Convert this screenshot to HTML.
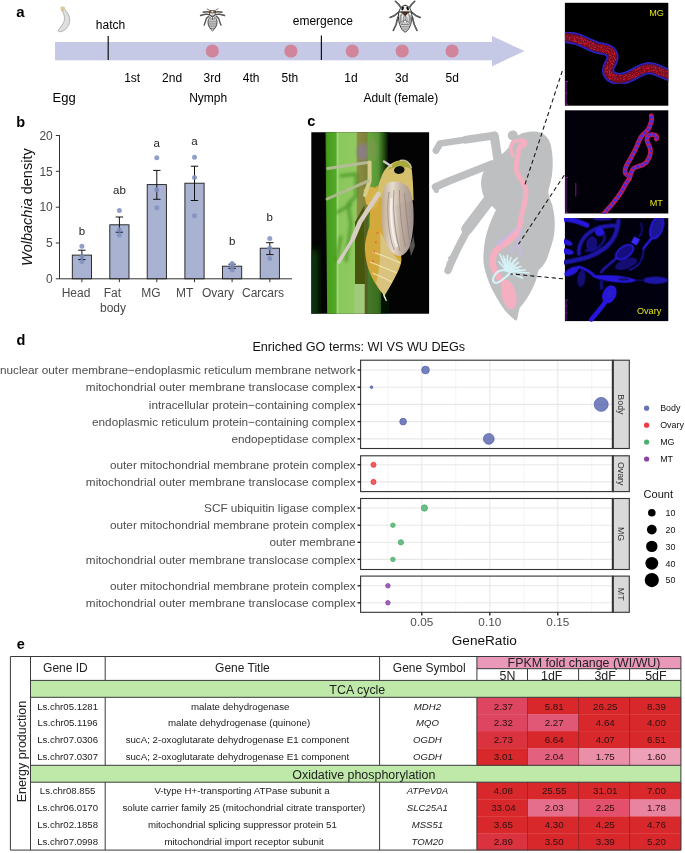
<!DOCTYPE html>
<html><head><meta charset="utf-8"><title>figure</title>
<style>
html,body{margin:0;padding:0;background:#fff;}
svg{display:block;font-family:"Liberation Sans", sans-serif;will-change:transform;}
</style></head>
<body>
<svg width="685" height="853" viewBox="0 0 685 853">
<rect width="685" height="853" fill="#fff"/>
<text x="16.3" y="16.8" font-size="15" fill="#000" text-anchor="start" font-weight="bold" font-style="normal" >a</text>
<rect x="55" y="42" width="438" height="18.3" fill="#c6c9e6"/>
<polygon points="492,36 524.5,51 492,66.4" fill="#c6c9e6"/>
<line x1="108.2" y1="36" x2="108.2" y2="60" stroke="#111" stroke-width="1.2"/>
<line x1="321.4" y1="35.5" x2="321.4" y2="60" stroke="#111" stroke-width="1.2"/>
<circle cx="212.3" cy="51" r="6.6" fill="#d0859b"/>
<circle cx="290.9" cy="51" r="6.6" fill="#d0859b"/>
<circle cx="352.3" cy="51" r="6.6" fill="#d0859b"/>
<circle cx="402.2" cy="51" r="6.6" fill="#d0859b"/>
<circle cx="452.1" cy="51" r="6.6" fill="#d0859b"/>
<path d="M62 11 C63.6 13 64.5 16 64.5 18.5 C64.5 22 62 25.5 58.1 30.4 C58 32.2 61 32.2 64.5 30.2 C68 27.5 70 23 69.7 19.7 C69.5 15.5 67.5 12 64.9 9.4 Z" fill="#dedede" stroke="#9b9b9b" stroke-width="0.7"/>
<path d="M60.3 7.6 C61.5 6.2 63.5 6 64.8 7.3 L65.4 9.6 L62.3 11.4 L60.8 10.2Z" fill="#d9c99a"/>
<g transform="translate(195,0) scale(0.058394)" stroke="#2e2e2e" fill="none" stroke-linecap="round" stroke-linejoin="round">
<g stroke-width="23" stroke="#2c2c2c"><path d="M268 215 L215 198 L140 210"/><path d="M332 215 L385 198 L462 210"/><path d="M258 250 L185 243 L95 265"/><path d="M342 250 L415 243 L507 265"/><path d="M236 278 L196 315 L158 430"/><path d="M364 278 L404 315 L444 430"/></g><g stroke-width="5" stroke="#dcdcdc"><path d="M268 215 L215 198 L140 210"/><path d="M332 215 L385 198 L462 210"/><path d="M258 250 L185 243 L95 265"/><path d="M342 250 L415 243 L507 265"/><path d="M236 278 L196 315 L158 430"/><path d="M364 278 L404 315 L444 430"/></g>
<g stroke-width="11"><path d="M268 188 L208 153"/><path d="M332 188 L396 150"/></g>
<path d="M300 266 C250 290 222 340 222 382 C222 440 264 502 300 530 C336 502 378 440 378 382 C378 340 350 290 300 266Z" fill="#f6f6f6" stroke-width="15"/>
<g stroke-width="13" stroke="#404040"><path d="M236 362 H364"/><path d="M232 395 H368"/><path d="M238 428 H362"/><path d="M252 460 H348"/><path d="M272 492 H328"/><path d="M262 325 H338"/><path d="M300 280 V330"/></g>
<path d="M256 212 H344 V262 L300 277 L256 262Z" fill="#e2e2e2" stroke-width="13"/>
<ellipse cx="298" cy="200" rx="50" ry="22" fill="#ececec" stroke-width="13"/>
<circle cx="265" cy="201" r="15" fill="#8a4a12" stroke="none"/><circle cx="327" cy="201" r="15" fill="#8a4a12" stroke="none"/>
</g>
<g transform="translate(385,0) scale(0.058394)" stroke="#2a2a2a" fill="none" stroke-linecap="round" stroke-linejoin="round">
<g stroke-width="27" stroke="#2c2c2c"><path d="M278 140 L236 78 L178 22"/><path d="M412 140 L454 78 L510 22"/><path d="M248 200 L165 265 L88 300"/><path d="M442 200 L525 265 L603 300"/><path d="M222 290 L190 420 L142 522"/><path d="M468 290 L500 420 L548 522"/></g><g stroke-width="6" stroke="#dedede"><path d="M278 140 L236 78 L178 22"/><path d="M412 140 L454 78 L510 22"/><path d="M248 200 L165 265 L88 300"/><path d="M442 200 L525 265 L603 300"/><path d="M222 290 L190 420 L142 522"/><path d="M468 290 L500 420 L548 522"/></g>
<path d="M345 92 C288 92 248 150 234 220 C220 300 234 400 278 482 C298 517 323 542 345 550 C367 542 392 517 412 482 C456 400 470 300 456 220 C442 150 402 92 345 92Z" fill="#ededed" stroke-width="16"/>
<g stroke-width="11" stroke="#4a4a4a"><path d="M292 230 C262 300 266 360 302 402"/><path d="M398 230 C428 300 424 360 388 402"/><path d="M345 272 V350"/><path d="M318 290 C305 340 310 370 330 395"/><path d="M372 290 C385 340 380 370 360 395"/><path d="M262 260 C250 320 256 370 276 410"/><path d="M428 260 C440 320 434 370 414 410"/><path d="M300 370 L345 340 L390 370"/><path d="M278 420 H412"/><path d="M286 450 H404"/><path d="M298 480 H392"/><path d="M316 510 H374"/></g>
<path d="M246 205 H444" stroke-width="16" stroke="#1a1a1a"/>
<polygon points="280,207 410,207 345,278" fill="#4b3222" stroke="#2a1a10" stroke-width="6"/>
<ellipse cx="302" cy="146" rx="19" ry="34" transform="rotate(24 302 146)" fill="#0c0c0c" stroke="none"/>
<ellipse cx="388" cy="146" rx="19" ry="34" transform="rotate(-24 388 146)" fill="#0c0c0c" stroke="none"/>
</g>
<text x="110.5" y="28.5" font-size="12" fill="#000" text-anchor="middle" font-weight="normal" font-style="normal" >hatch</text>
<text x="322.8" y="24.8" font-size="12" fill="#000" text-anchor="middle" font-weight="normal" font-style="normal" >emergence</text>
<text x="132.2" y="82.4" font-size="12" fill="#000" text-anchor="middle" font-weight="normal" font-style="normal" >1st</text>
<text x="172.1" y="82.4" font-size="12" fill="#000" text-anchor="middle" font-weight="normal" font-style="normal" >2nd</text>
<text x="212.2" y="82.4" font-size="12" fill="#000" text-anchor="middle" font-weight="normal" font-style="normal" >3rd</text>
<text x="251.1" y="82.4" font-size="12" fill="#000" text-anchor="middle" font-weight="normal" font-style="normal" >4th</text>
<text x="289.8" y="82.4" font-size="12" fill="#000" text-anchor="middle" font-weight="normal" font-style="normal" >5th</text>
<text x="351" y="82.4" font-size="12" fill="#000" text-anchor="middle" font-weight="normal" font-style="normal" >1d</text>
<text x="401.7" y="82.4" font-size="12" fill="#000" text-anchor="middle" font-weight="normal" font-style="normal" >3d</text>
<text x="452.2" y="82.4" font-size="12" fill="#000" text-anchor="middle" font-weight="normal" font-style="normal" >5d</text>
<text x="52.6" y="102" font-size="13" fill="#000" text-anchor="start" font-weight="normal" font-style="normal" >Egg</text>
<text x="208.2" y="102" font-size="12" fill="#000" text-anchor="middle" font-weight="normal" font-style="normal" >Nymph</text>
<text x="400.8" y="102" font-size="12" fill="#000" text-anchor="middle" font-weight="normal" font-style="normal" >Adult (female)</text>
<text x="16.3" y="126.8" font-size="14.5" fill="#000" text-anchor="start" font-weight="bold" font-style="normal" >b</text>
<rect x="72.3" y="255.1" width="19.2" height="23.7" fill="#a9b3d1" stroke="#1a1a1a" stroke-width="0.9"/>
<path d="M81.9 250.2V259.6M78.2 250.2H85.60000000000001M78.2 259.6H85.60000000000001" stroke="#111" stroke-width="1" fill="none"/>
<circle cx="81.9" cy="246.3" r="2.5" fill="#7f8fbe" fill-opacity="0.85"/>
<circle cx="81.9" cy="256.8" r="2.5" fill="#7f8fbe" fill-opacity="0.85"/>
<circle cx="81.9" cy="261.4" r="2.5" fill="#7f8fbe" fill-opacity="0.85"/>
<rect x="109.8" y="224.8" width="19.2" height="54.0" fill="#a9b3d1" stroke="#1a1a1a" stroke-width="0.9"/>
<path d="M119.4 217V232.2M115.7 217H123.10000000000001M115.7 232.2H123.10000000000001" stroke="#111" stroke-width="1" fill="none"/>
<circle cx="119.4" cy="210.5" r="2.5" fill="#7f8fbe" fill-opacity="0.85"/>
<circle cx="119.4" cy="229.9" r="2.5" fill="#7f8fbe" fill-opacity="0.85"/>
<circle cx="119.4" cy="235" r="2.5" fill="#7f8fbe" fill-opacity="0.85"/>
<rect x="147.2" y="184.6" width="19.2" height="94.2" fill="#a9b3d1" stroke="#1a1a1a" stroke-width="0.9"/>
<path d="M156.8 170.4V199.3M153.10000000000002 170.4H160.5M153.10000000000002 199.3H160.5" stroke="#111" stroke-width="1" fill="none"/>
<circle cx="156.8" cy="157.8" r="2.5" fill="#7f8fbe" fill-opacity="0.85"/>
<circle cx="156.8" cy="189.8" r="2.5" fill="#7f8fbe" fill-opacity="0.85"/>
<circle cx="156.8" cy="207.8" r="2.5" fill="#7f8fbe" fill-opacity="0.85"/>
<rect x="184.9" y="183.2" width="19.2" height="95.6" fill="#a9b3d1" stroke="#1a1a1a" stroke-width="0.9"/>
<path d="M194.5 166.2V200.5M190.8 166.2H198.2M190.8 200.5H198.2" stroke="#111" stroke-width="1" fill="none"/>
<circle cx="194.5" cy="157.3" r="2.5" fill="#7f8fbe" fill-opacity="0.85"/>
<circle cx="194.5" cy="177.4" r="2.5" fill="#7f8fbe" fill-opacity="0.85"/>
<circle cx="194.5" cy="215.7" r="2.5" fill="#7f8fbe" fill-opacity="0.85"/>
<rect x="222.5" y="266.2" width="19.2" height="12.6" fill="#a9b3d1" stroke="#1a1a1a" stroke-width="0.9"/>
<path d="M232.1 264.2V268.3M228.4 264.2H235.79999999999998M228.4 268.3H235.79999999999998" stroke="#111" stroke-width="1" fill="none"/>
<circle cx="232.1" cy="263.4" r="2.5" fill="#7f8fbe" fill-opacity="0.85"/>
<circle cx="232.1" cy="265.8" r="2.5" fill="#7f8fbe" fill-opacity="0.85"/>
<circle cx="232.1" cy="269.9" r="2.5" fill="#7f8fbe" fill-opacity="0.85"/>
<rect x="260.2" y="248.2" width="19.2" height="30.6" fill="#a9b3d1" stroke="#1a1a1a" stroke-width="0.9"/>
<path d="M269.8 242.7V254.6M266.1 242.7H273.5M266.1 254.6H273.5" stroke="#111" stroke-width="1" fill="none"/>
<circle cx="269.8" cy="238.5" r="2.5" fill="#7f8fbe" fill-opacity="0.85"/>
<circle cx="269.8" cy="247.9" r="2.5" fill="#7f8fbe" fill-opacity="0.85"/>
<circle cx="269.8" cy="258.6" r="2.5" fill="#7f8fbe" fill-opacity="0.85"/>
<path d="M59.5 135.2V278.8H292" stroke="#333" stroke-width="1" fill="none"/>
<line x1="55.8" x2="59.5" y1="278.8" y2="278.8" stroke="#333" stroke-width="1"/>
<text x="52.8" y="283.0" font-size="12" fill="#4a4a4a" text-anchor="end" font-weight="normal" font-style="normal" >0</text>
<line x1="55.8" x2="59.5" y1="243.0" y2="243.0" stroke="#333" stroke-width="1"/>
<text x="52.8" y="247.2" font-size="12" fill="#4a4a4a" text-anchor="end" font-weight="normal" font-style="normal" >5</text>
<line x1="55.8" x2="59.5" y1="207.2" y2="207.2" stroke="#333" stroke-width="1"/>
<text x="52.8" y="211.3" font-size="12" fill="#4a4a4a" text-anchor="end" font-weight="normal" font-style="normal" >10</text>
<line x1="55.8" x2="59.5" y1="171.3" y2="171.3" stroke="#333" stroke-width="1"/>
<text x="52.8" y="175.5" font-size="12" fill="#4a4a4a" text-anchor="end" font-weight="normal" font-style="normal" >15</text>
<line x1="55.8" x2="59.5" y1="135.5" y2="135.5" stroke="#333" stroke-width="1"/>
<text x="52.8" y="139.7" font-size="12" fill="#4a4a4a" text-anchor="end" font-weight="normal" font-style="normal" >20</text>
<line x1="81.9" x2="81.9" y1="278.8" y2="282.2" stroke="#333" stroke-width="1"/>
<line x1="119.4" x2="119.4" y1="278.8" y2="282.2" stroke="#333" stroke-width="1"/>
<line x1="156.8" x2="156.8" y1="278.8" y2="282.2" stroke="#333" stroke-width="1"/>
<line x1="194.5" x2="194.5" y1="278.8" y2="282.2" stroke="#333" stroke-width="1"/>
<line x1="232.1" x2="232.1" y1="278.8" y2="282.2" stroke="#333" stroke-width="1"/>
<line x1="269.8" x2="269.8" y1="278.8" y2="282.2" stroke="#333" stroke-width="1"/>
<text x="81.9" y="234.6" font-size="11.5" fill="#222" text-anchor="middle" font-weight="normal" font-style="normal" >b</text>
<text x="119.4" y="193.8" font-size="11.5" fill="#222" text-anchor="middle" font-weight="normal" font-style="normal" >ab</text>
<text x="156.8" y="146.5" font-size="11.5" fill="#222" text-anchor="middle" font-weight="normal" font-style="normal" >a</text>
<text x="194.5" y="144.9" font-size="11.5" fill="#222" text-anchor="middle" font-weight="normal" font-style="normal" >a</text>
<text x="232.1" y="244.5" font-size="11.5" fill="#222" text-anchor="middle" font-weight="normal" font-style="normal" >b</text>
<text x="269.8" y="221.4" font-size="11.5" fill="#222" text-anchor="middle" font-weight="normal" font-style="normal" >b</text>
<text x="76" y="297" font-size="12" fill="#4a4a4a" text-anchor="middle" font-weight="normal" font-style="normal" >Head</text>
<text x="112.3" y="297" font-size="12" fill="#4a4a4a" text-anchor="middle" font-weight="normal" font-style="normal" >Fat</text>
<text x="113" y="312.2" font-size="12" fill="#4a4a4a" text-anchor="middle" font-weight="normal" font-style="normal" >body</text>
<text x="151" y="297" font-size="12" fill="#4a4a4a" text-anchor="middle" font-weight="normal" font-style="normal" >MG</text>
<text x="184.6" y="297" font-size="12" fill="#4a4a4a" text-anchor="middle" font-weight="normal" font-style="normal" >MT</text>
<text x="218" y="297" font-size="12" fill="#4a4a4a" text-anchor="middle" font-weight="normal" font-style="normal" >Ovary</text>
<text x="263" y="297" font-size="12" fill="#4a4a4a" text-anchor="middle" font-weight="normal" font-style="normal" >Carcars</text>
<text transform="translate(32.4,266) rotate(-90)" font-size="14.5" fill="#111"><tspan font-style="italic">Wolbachia</tspan> density</text>
<text x="307.3" y="126" font-size="14.5" fill="#000" text-anchor="start" font-weight="bold" font-style="normal" >c</text>
<defs><clipPath id="cpPhoto"><rect x="68" y="72" width="490" height="755"/></clipPath><filter id="b3" x="-20%" y="-20%" width="140%" height="140%"><feGaussianBlur stdDeviation="3"/></filter><filter id="b6" x="-20%" y="-20%" width="140%" height="140%"><feGaussianBlur stdDeviation="6"/></filter><filter id="b12" x="-30%" y="-30%" width="160%" height="160%"><feGaussianBlur stdDeviation="12"/></filter><linearGradient id="stemG" x1="0" x2="1" y1="0" y2="0"><stop offset="0" stop-color="#2f7d12"/><stop offset="0.05" stop-color="#55a628"/><stop offset="0.16" stop-color="#4c9a25"/><stop offset="0.2" stop-color="#7fbd55"/><stop offset="0.36" stop-color="#97c878"/><stop offset="0.5" stop-color="#86bd62"/><stop offset="0.53" stop-color="#7f8a3a"/><stop offset="0.6" stop-color="#6b7a2c"/><stop offset="0.64" stop-color="#6aa840"/><stop offset="0.78" stop-color="#4f8f30"/><stop offset="0.9" stop-color="#1d3a12"/><stop offset="1" stop-color="#000"/></linearGradient></defs>
<defs><clipPath id="cpPh"><rect x="311.3" y="132.3" width="117.8" height="181.5"/></clipPath><filter id="pb1" x="-10%" y="-10%" width="120%" height="120%"><feGaussianBlur stdDeviation="0.7"/></filter><filter id="pb2" x="-20%" y="-20%" width="140%" height="140%"><feGaussianBlur stdDeviation="1.6"/></filter><filter id="pb4" x="-30%" y="-30%" width="160%" height="160%"><feGaussianBlur stdDeviation="3.5"/></filter><linearGradient id="stG" gradientUnits="userSpaceOnUse" x1="325" x2="389" y1="0" y2="0"><stop offset="0" stop-color="#1e5a0a"/><stop offset="0.03" stop-color="#479c1e"/><stop offset="0.17" stop-color="#52aa26"/><stop offset="0.195" stop-color="#a6d482"/><stop offset="0.225" stop-color="#8ac85a"/><stop offset="0.485" stop-color="#90c962"/><stop offset="0.51" stop-color="#8d8c44"/><stop offset="0.655" stop-color="#7c8238"/><stop offset="0.68" stop-color="#6aa83a"/><stop offset="0.83" stop-color="#579636"/><stop offset="0.93" stop-color="#21490f"/><stop offset="1" stop-color="#000"/></linearGradient><linearGradient id="wgG" x1="0" x2="1" y1="0" y2="0"><stop offset="0" stop-color="#bda98e"/><stop offset="0.35" stop-color="#e6dcd2"/><stop offset="0.6" stop-color="#c6b4a6"/><stop offset="1" stop-color="#a39490"/></linearGradient></defs>
<g clip-path="url(#cpPh)">
<rect x="311" y="132" width="119" height="182.5" fill="#020302"/>
<rect x="308" y="250" width="10" height="70" fill="#0c3a0c" filter="url(#pb4)"/>
<g filter="url(#pb1)">
<path d="M325.3 130 H389 L387.5 200 L382 225 L381 316 H327.2 Z" fill="url(#stG)"/>
<path d="M355 222 L364.5 205 L365 284 L355 284Z" fill="#47560f"/>
<path d="M354.5 284 H364.5 V316 H354.5Z" fill="#a2ca7c"/>
<path d="M365 215 L389 200 V316 H365Z" fill="#0a2a06" opacity="0.38"/>
</g>
<ellipse cx="362.5" cy="152" rx="5.5" ry="9" fill="#8c7c8c" opacity="0.85" filter="url(#pb2)"/>
<ellipse cx="372" cy="150" rx="5" ry="12" fill="#7b9a50" opacity="0.7" filter="url(#pb2)"/>
<g stroke="#3f8f1c" fill="none" stroke-width="3" opacity="0.75" filter="url(#pb2)"><path d="M340 176 L356 174 L356 196 L348 204 L351 224 L346 262"/><path d="M336 213 L352 204"/><path d="M341 236 L336 262"/></g>
<g filter="url(#pb1)">
<path d="M376 186 C372 196 369 214 369.5 226 C366 236 364.5 244 365 250 C365.5 262 369 274 376.5 285.5 C379 289.5 382 293.5 384.5 295.5 C388 290 391.5 284 394 279 C398 272 401 266 401.5 260 L398 222 L392 190Z" fill="#d3a93a"/>
<path d="M380 232 C386 240 392 256 401 262 L394 279 C389 288 386.5 292 384.8 295 C381 292 378 287 376 283 C380 270 381 250 380 232Z" fill="#d9c88c" opacity="0.85"/>
<path d="M372.5 252 C382 255 392 259 400.5 263 M370 262 C380 266 390 270 397 273 M372.5 273 C380 276 386 279 392 282" stroke="#f1e9b4" stroke-width="1.3" fill="none" opacity="0.9"/>
<path d="M377.5 232 L375.5 244 L373.5 256 L372.5 268" stroke="#ee6a38" stroke-width="1.7" stroke-dasharray="2 7.5" fill="none"/>
<path d="M383.6 294 L386.4 301 L384 296Z" fill="#ece8dc" stroke="#ece8dc" stroke-width="1.2"/>
<path d="M381 178 C384 168 391 162 399 160.5 C406 159.5 411 163 411.8 170 C412.8 178 413.5 190 413.5 200 L396 205 L378 196 C377 190 378.5 183 381 178Z" fill="#d6c06c"/>
<path d="M388 170 C392 163 398 160 404 160.5 C409 161.5 411 165 411 169 C406 166 396 166 388 170Z" fill="#a9a93a"/>
<path d="M400 160.5 C405 159 410 162 411.5 168" stroke="#d9d2b8" stroke-width="1.4" fill="none" opacity="0.8"/>
<ellipse cx="399.3" cy="170" rx="5.3" ry="3.9" transform="rotate(-8 399.3 170)" fill="#0b0f0a"/>
<path d="M363.5 190 C367 186 372 186 377 189 L380 200 L375 209 L366 204Z" fill="#d6b44a"/>
<path d="M386 184 C392 180 401 181 407 186 C412.5 192 414 206 413.6 220 C413.2 232 411.5 243 408.5 249 C405 255 400.5 257 397 255.5 C391 253 386 246 383.5 236 C381 224 380.5 206 382 196 C383 190 384.5 186 386 184Z" fill="url(#wgG)" opacity="0.97"/>
<path d="M389 192 C386.5 208 387.5 232 394 250 M394 190 C392.5 208 394.5 232 400 251 M399.5 190 C399.5 210 402 232 405.5 247 M404.5 193 C406 210 408 228 409.5 240" stroke="#8e807c" stroke-width="0.9" fill="none" opacity="0.8"/>
<path d="M391.5 198 C390 212 391.5 232 397 247" stroke="#f7f3f1" stroke-width="2.2" fill="none" opacity="0.9"/>
<path d="M409 246 C412 243 413 238 413 234 L415 246 L411 256Z" fill="#8c8a86" opacity="0.6"/>
</g>
<g fill="none" stroke-linecap="round" stroke-linejoin="round" filter="url(#pb1)">
<path d="M327.8 168.6 L369.3 162.3" stroke="#b9bc9c" stroke-width="3" opacity="0.9"/>
<path d="M369.6 162.6 L369.6 181 L365 195" stroke="#d4cb8c" stroke-width="4"/>
<path d="M327 199 L368.3 180.8" stroke="#b6ba98" stroke-width="3" opacity="0.9"/>
<path d="M378.3 194 L360 222 L352.8 239" stroke="#d9ccc0" stroke-width="4.6"/>
<path d="M352.8 239 L345 252 L338.8 262" stroke="#d6cbc6" stroke-width="3.4"/>
<path d="M384 161.5 L391 166" stroke="#cfc8c0" stroke-width="2.4"/>
</g>
</g>
<g fill="#bebfc0" stroke="none">
<path d="M509 147 C511 138 520 132 532 131.5 C542 131 549 136 551 146 C554 160 553 176 549 188 C548 192 548 195 550 199 C556 212 556 232 552 243.5 C550 250 548.5 255 546.3 260.5 C544 265 541 268 538.7 270 C537.5 272.5 537.5 275 536.8 277.6 C535 284 532 290 529.2 294.7 C526 300 523 304 519.7 308 C518.5 312 518 316 516.9 320.3 C515.5 320.8 514.3 319.6 513.1 318.4 C510 316 507 313 504.5 309.9 C501 305 498 300 495 294.7 C490.5 287 487.5 279 485.5 271.9 C483.5 265 483 259 483.6 253 C484 243 486 234 489 226 C491 220 494 214 496 210 L486 200 C479 190 480 175 486 168 C490 163 496 160 500 156 C504 152 507 150 509 147Z"/>
<circle cx="512.8" cy="135.4" r="5"/>
</g>
<g fill="none" stroke="#bebfc0" stroke-linecap="round" stroke-linejoin="round">
<path d="M498 160 L494.3 136" stroke-width="9"/><path d="M494 135.6 L466 139.6" stroke-width="8"/>
<path d="M494 135.5 L440 143.5 L436 150.5" stroke-width="6.8"/>
<path d="M492 164 L449 181 L435.5 187" stroke-width="7.5"/>
<path d="M435.8 186 L436.3 190.5" stroke-width="5"/>
<path d="M492 196 L467 229" stroke-width="11.5"/>
<path d="M467.5 230 L458 248 L451 263 L448 270.5" stroke-width="7.4"/>
<path d="M454 255 L449.5 258 M452.5 261.5 L448 263" stroke-width="3"/>
</g>
<g fill="none" stroke="#f4afc0" stroke-linecap="round" stroke-linejoin="round">
<path d="M512.8 156 C511 151 510.5 147 511.5 144.5 C513 141 519 140 523.5 140.3 C526.5 141 526 145 523.5 146.5" stroke-width="3.4"/>
<path d="M522 143 C519 148 518 152 517.7 156 C517 162 515.5 166 516.5 170.5 C518 177 524 182 525.5 188 C527 196 524 206 522 213 C521 219 520.5 224 519 228" stroke-width="5.2"/>
<path d="M519 228 C516 236 509 241 503 245 C496 249 492.5 254 492.5 261 C492.5 268 496 274 501 280" stroke-width="6.6"/>
</g>
<ellipse cx="508.8" cy="294.5" rx="7.2" ry="15.2" transform="rotate(-14 508.8 294.5)" fill="#f4afc0"/>
<g fill="none" stroke="#c9b7e8" stroke-width="1.5" stroke-linecap="round">
<path d="M517.3 227 C513 231 510 234 507.5 236 C503 239 499 241 496.9 244.5 M508 236 L502 241 L500.5 245"/>
<path d="M521.5 228.5 C520 234 518 239 518.3 243.5 C520 248 521.5 252 519.8 256.8 M518.3 243.5 C515 249 512 251 509.5 251.5"/>
</g>
<g fill="none" stroke="#d5f2f7" stroke-linecap="round">
<path d="M507 271 L500 254.5 M507 271 L503.5 256 M507 271 L507.5 255.5 M507 271 L511 257.5 M507 271 L514.5 260 M507 271 L518.5 262.5 M507 271 L521 266.5 M507 271 L525.5 270 M507 271 L529 273 M507 271 L522.5 278 M507 271 L499 262 M507 271 L517 258 M507 271 L513 265" stroke-width="1.7"/>
<path d="M510.5 272.5 C505 268.5 498.5 270 495.5 274 C492 278 492 283 496.5 283 C501 282 506 277 510.5 272.5" stroke-width="2.1"/>
<path d="M503 262 L512 268 M505 259 L515 268 M509 262 L519 270" stroke-width="1.3"/>
</g>
<g stroke="#111" stroke-width="1.05" stroke-dasharray="4.2 3" fill="none">
<path d="M562.3 71 L524.7 185.4"/>
<path d="M564.2 175.2 L518.5 244.2"/>
<path d="M563 278.8 L510.5 273.9"/>
</g>
<defs><clipPath id="cpMG"><rect x="564.9" y="2.8" width="103.4" height="102.9"/></clipPath><clipPath id="cpMT"><rect x="564.9" y="110.3" width="103.4" height="103.2"/></clipPath><clipPath id="cpOV"><rect x="564.9" y="218.1" width="103.4" height="103"/></clipPath><filter id="b05" x="-10%" y="-10%" width="120%" height="120%"><feGaussianBlur stdDeviation="0.5"/></filter><filter id="b08" x="-10%" y="-10%" width="120%" height="120%"><feGaussianBlur stdDeviation="0.8"/></filter></defs>
<defs><filter id="spk" x="0" y="0" width="100%" height="100%"><feTurbulence type="fractalNoise" baseFrequency="0.85" numOctaves="2" seed="7" result="n"/><feColorMatrix in="n" type="matrix" values="0 0 0 0 0  0 0 0 0 0  0 0 0 0 0  0 0 0 6 -3.0" result="m"/><feComposite in="SourceGraphic" in2="m" operator="in"/></filter><filter id="spk2" x="0" y="0" width="100%" height="100%"><feTurbulence type="fractalNoise" baseFrequency="0.7" numOctaves="2" seed="11" result="n"/><feColorMatrix in="n" type="matrix" values="0 0 0 0 0  0 0 0 0 0  0 0 0 0 0  0 0 0 8 -3.6" result="m"/><feComposite in="SourceGraphic" in2="m" operator="in"/></filter></defs>
<rect x="564.9" y="2.8" width="103.4" height="102.9" fill="#000"/>
<g clip-path="url(#cpMG)" fill="none" stroke-linecap="round" stroke-linejoin="round">
<g filter="url(#b05)"><path d="M560 36.8 C568 37 574 37.8 580 40.2 C586 43 591 45.2 595.4 47 C600 48.6 603.5 48.4 607 49.8 C611.5 51.6 613.6 55.5 612 60 C610.5 64.5 607.2 67.5 608 71.5 C609 75.6 612.5 77.8 617 78.8 C622 79.8 628 77.6 634.8 73.6 C639.5 70.8 643 68.8 647.5 68.2 C652 67.8 655 69 658.5 70.6 C662 72.2 666 74.2 672 76" stroke="#2a22c4" stroke-width="12.2"/>
<path d="M560 36.8 C568 37 574 37.8 580 40.2 C586 43 591 45.2 595.4 47 C600 48.6 603.5 48.4 607 49.8 C611.5 51.6 613.6 55.5 612 60 C610.5 64.5 607.2 67.5 608 71.5 C609 75.6 612.5 77.8 617 78.8 C622 79.8 628 77.6 634.8 73.6 C639.5 70.8 643 68.8 647.5 68.2 C652 67.8 655 69 658.5 70.6 C662 72.2 666 74.2 672 76" stroke="#4a1250" stroke-width="9.2"/>
<path d="M560 36.8 C568 37 574 37.8 580 40.2 C586 43 591 45.2 595.4 47 C600 48.6 603.5 48.4 607 49.8 C611.5 51.6 613.6 55.5 612 60 C610.5 64.5 607.2 67.5 608 71.5 C609 75.6 612.5 77.8 617 78.8 C622 79.8 628 77.6 634.8 73.6 C639.5 70.8 643 68.8 647.5 68.2 C652 67.8 655 69 658.5 70.6 C662 72.2 666 74.2 672 76" stroke="#7a1020" stroke-width="7"/></g>
<path d="M560 36.8 C568 37 574 37.8 580 40.2 C586 43 591 45.2 595.4 47 C600 48.6 603.5 48.4 607 49.8 C611.5 51.6 613.6 55.5 612 60 C610.5 64.5 607.2 67.5 608 71.5 C609 75.6 612.5 77.8 617 78.8 C622 79.8 628 77.6 634.8 73.6 C639.5 70.8 643 68.8 647.5 68.2 C652 67.8 655 69 658.5 70.6 C662 72.2 666 74.2 672 76" stroke="#d01c24" stroke-width="7.6" filter="url(#spk)"/>
<path d="M668.6 57 V79" stroke="#2a22d8" stroke-width="2.6" filter="url(#b05)"/>
</g>
<path d="M566 81.5V104.5M565.5 81.5H568M565.5 104.3H568M565.5 93H567.3" stroke="#9a1eb4" stroke-width="1" fill="none" opacity="0.85"/>
<text x="649.3" y="16.2" font-size="9.1" fill="#e4e41c" text-anchor="start" font-weight="normal" font-style="normal" >MG</text>
<rect x="564.9" y="110.3" width="103.4" height="103.2" fill="#020008"/>
<g clip-path="url(#cpMT)" fill="none" stroke-linejoin="round" filter="url(#b05)">
<path d="M651.3 115.8 C652.3 119 651.6 121.5 650.6 123.6 C649.8 126.5 649 128.5 647.6 130.2 C645.5 132.5 643.3 134 641.5 136.2 C639.5 139.5 638 143 636.6 146.6 C635 150.5 633 154 631.1 157.6 C629.5 160.5 627.5 163 626.2 166.1 C625 169 624.6 171.5 625.6 173.6 C626.8 175.6 629.8 175 629.9 177 C629.6 179.5 627.5 181 626.2 183.2 C624.5 186.5 622.6 189.8 620.7 192.9 C618.4 196.3 616 199.5 613.4 202.7 C610.6 206 607.8 209.2 603.5 214" stroke="#bc1c5a" stroke-width="4.8" stroke-linecap="round"/>
<path d="M651.3 115.8 C652.3 119 651.6 121.5 650.6 123.6 C649.8 126.5 649 128.5 647.6 130.2 C645.5 132.5 643.3 134 641.5 136.2 C639.5 139.5 638 143 636.6 146.6 C635 150.5 633 154 631.1 157.6 C629.5 160.5 627.5 163 626.2 166.1 C625 169 624.6 171.5 625.6 173.6 C626.8 175.6 629.8 175 629.9 177 C629.6 179.5 627.5 181 626.2 183.2 C624.5 186.5 622.6 189.8 620.7 192.9 C618.4 196.3 616 199.5 613.4 202.7 C610.6 206 607.8 209.2 603.5 214" stroke="#3a2eea" stroke-width="2.7" stroke-dasharray="2.6 1.8"/>
<path d="M656.3 139 C657.6 137 656 134.6 653.7 134.8 C651.8 134.6 650.2 134.6 648.8 135.6 C647.2 136.8 646.6 138.5 647 140.5 C647.6 143 649.2 145.2 650 147.8 C650.8 150.2 650.8 152.8 650 155.1 C649.2 157.8 648 160.4 646.3 162.4 C644.3 164.3 641.6 165.3 639 166.1 C637 166.8 635 167.3 633.5 168.5 C631.9 170 631.2 172.4 630.5 174.6 C630 176 629.6 177 629.3 178.3" stroke="#bc1c5a" stroke-width="4.8" stroke-linecap="round"/>
<path d="M656.3 139 C657.6 137 656 134.6 653.7 134.8 C651.8 134.6 650.2 134.6 648.8 135.6 C647.2 136.8 646.6 138.5 647 140.5 C647.6 143 649.2 145.2 650 147.8 C650.8 150.2 650.8 152.8 650 155.1 C649.2 157.8 648 160.4 646.3 162.4 C644.3 164.3 641.6 165.3 639 166.1 C637 166.8 635 167.3 633.5 168.5 C631.9 170 631.2 172.4 630.5 174.6 C630 176 629.6 177 629.3 178.3" stroke="#3a2eea" stroke-width="2.7" stroke-dasharray="2.6 1.8"/>
</g>
<path d="M566 177.5V212.5M565.5 177.5H568M565.5 212.3H568M575.8 183V196.5" stroke="#9a1eb4" stroke-width="0.9" fill="none" opacity="0.85"/>
<text x="649.7" y="206.2" font-size="9.1" fill="#e4e41c" text-anchor="start" font-weight="normal" font-style="normal" >MT</text>
<rect x="564.9" y="218.1" width="103.4" height="103" fill="#01000e"/>
<g clip-path="url(#cpOV)"><g transform="translate(565,218) scale(0.15182)" filter="url(#b3)" fill="none" stroke-linecap="round">
<path d="M0 292 C60 280 110 272 150 258 C200 240 235 218 262 198 C300 168 325 130 338 90 C345 65 350 45 352 20" stroke="#1e15a6" stroke-width="30"/>
<path d="M92 235 C88 200 98 170 118 140 C140 108 175 80 225 62 C260 52 300 50 335 52" stroke="#1e15a6" stroke-width="26"/>
<path d="M140 215 C180 222 225 200 250 160 C262 140 262 118 255 100" stroke="#120c72" stroke-width="20"/>
<ellipse cx="176" cy="168" rx="30" ry="42" transform="rotate(12 176 168)" fill="#120c72" stroke="#1e15a6" stroke-width="8"/>
<ellipse cx="228" cy="92" rx="30" ry="28" fill="#2619dc"/>
<path d="M-5 8 C40 8 90 22 145 48" stroke="#2619dc" stroke-width="32"/>
<path d="M195 5 C230 8 260 8 300 4" stroke="#1e15a6" stroke-width="18"/>
<ellipse cx="12" cy="160" rx="40" ry="17" transform="rotate(22 12 160)" fill="#2619dc"/>
<ellipse cx="18" cy="222" rx="40" ry="19" transform="rotate(12 18 222)" fill="#2619dc"/>
<ellipse cx="42" cy="352" rx="52" ry="24" transform="rotate(-28 42 352)" fill="#2619dc"/>
<path d="M85 322 C120 322 150 345 185 372" stroke="#2619dc" stroke-width="18"/>
<path d="M180 372 C230 378 290 372 340 380 C390 385 440 395 470 410 C440 428 390 428 340 424 C290 420 230 410 180 388Z" fill="#2619dc"/>
<ellipse cx="385" cy="404" rx="40" ry="10" fill="#180f78"/>
<ellipse cx="596" cy="410" rx="82" ry="25" fill="#1e15a6"/>
<path d="M470 410 H520" stroke="#120c72" stroke-width="8"/>
<ellipse cx="108" cy="398" rx="27" ry="58" transform="rotate(8 108 398)" fill="#120c72"/>
<ellipse cx="240" cy="440" rx="13" ry="38" fill="#120c72"/>
<ellipse cx="402" cy="302" rx="78" ry="34" transform="rotate(-20 402 302)" fill="#120c72"/>
<path d="M440 188 C400 215 340 262 262 330 C250 340 245 348 238 356" stroke="#1e15a6" stroke-width="18"/>
<ellipse cx="392" cy="224" rx="66" ry="37" transform="rotate(-35 392 224)" fill="#160f7c" stroke="#2619dc" stroke-width="11"/>
<rect x="443" y="128" width="42" height="46" transform="rotate(28 464 151)" fill="#3a2cff"/>
<path d="M490 120 C505 105 512 75 500 35" stroke="#120c72" stroke-width="14"/>
<ellipse cx="604" cy="62" rx="38" ry="76" transform="rotate(19 604 62)" fill="#1a1290" stroke="#2619dc" stroke-width="13"/>
<path d="M572 132 C550 160 528 180 516 205" stroke="#2619dc" stroke-width="17"/>
<path d="M516 205 C518 240 510 270 488 300 C470 322 448 335 425 342" stroke="#1e15a6" stroke-width="10"/>
<ellipse cx="292" cy="503" rx="44" ry="62" transform="rotate(26 292 503)" fill="#2619dc"/>
<path d="M268 548 C240 590 210 625 172 668" stroke="#2619dc" stroke-width="30"/>
<ellipse cx="292" cy="500" rx="16" ry="30" transform="rotate(26 292 500)" fill="#2a1cc8"/>
</g></g>
<path d="M566 300V320.5M565.5 300H568M565.5 306H567.5M565.5 313H567.5" stroke="#9a1eb4" stroke-width="0.9" fill="none" opacity="0.85"/>
<text x="637" y="313.6" font-size="9.1" fill="#e4e41c" text-anchor="start" font-weight="normal" font-style="normal" >Ovary</text>
<text x="16.5" y="345" font-size="14.5" fill="#000" text-anchor="start" font-weight="bold" font-style="normal" >d</text>
<text x="358.8" y="351.3" font-size="12.65" fill="#111" text-anchor="middle" font-weight="normal" font-style="normal" >Enriched GO terms: WI VS WU DEGs</text>
<rect x="360.6" y="360.2" width="252.4" height="88.3" fill="#fff"/>
<line x1="387.8" x2="387.8" y1="360.2" y2="448.5" stroke="#f3f3f3" stroke-width="0.8"/>
<line x1="455.8" x2="455.8" y1="360.2" y2="448.5" stroke="#f3f3f3" stroke-width="0.8"/>
<line x1="523.8" x2="523.8" y1="360.2" y2="448.5" stroke="#f3f3f3" stroke-width="0.8"/>
<line x1="591.8" x2="591.8" y1="360.2" y2="448.5" stroke="#f3f3f3" stroke-width="0.8"/>
<line x1="421.8" x2="421.8" y1="360.2" y2="448.5" stroke="#e8e8e8" stroke-width="1.1"/>
<line x1="489.8" x2="489.8" y1="360.2" y2="448.5" stroke="#e8e8e8" stroke-width="1.1"/>
<line x1="557.8" x2="557.8" y1="360.2" y2="448.5" stroke="#e8e8e8" stroke-width="1.1"/>
<line x1="360.6" x2="613" y1="370" y2="370" stroke="#e8e8e8" stroke-width="1.1"/>
<line x1="360.6" x2="613" y1="387.2" y2="387.2" stroke="#e8e8e8" stroke-width="1.1"/>
<line x1="360.6" x2="613" y1="404.4" y2="404.4" stroke="#e8e8e8" stroke-width="1.1"/>
<line x1="360.6" x2="613" y1="421.6" y2="421.6" stroke="#e8e8e8" stroke-width="1.1"/>
<line x1="360.6" x2="613" y1="438.9" y2="438.9" stroke="#e8e8e8" stroke-width="1.1"/>
<circle cx="425.5" cy="370" r="3.85" fill="#5865ae" fill-opacity="0.82" stroke="#5865ae" stroke-width="0.8"/>
<circle cx="371.5" cy="387.2" r="1.35" fill="#5865ae" fill-opacity="0.82" stroke="#5865ae" stroke-width="0.8"/>
<circle cx="601.2" cy="404.4" r="6.95" fill="#5865ae" fill-opacity="0.82" stroke="#5865ae" stroke-width="0.8"/>
<circle cx="403.1" cy="421.6" r="3.35" fill="#5865ae" fill-opacity="0.82" stroke="#5865ae" stroke-width="0.8"/>
<circle cx="488.8" cy="438.9" r="5.35" fill="#5865ae" fill-opacity="0.82" stroke="#5865ae" stroke-width="0.8"/>
<rect x="613" y="360.2" width="16.3" height="88.3" fill="#d9d9d9" stroke="#333" stroke-width="1.1"/>
<rect x="360.6" y="360.2" width="252.4" height="88.3" fill="none" stroke="#333" stroke-width="1.1"/>
<line x1="612.6" x2="612.6" y1="360.2" y2="448.5" stroke="#333" stroke-width="1.6"/>
<text transform="translate(618.0,404.4) rotate(90)" font-size="8.8" fill="#333" text-anchor="middle">Body</text>
<line x1="357.5" x2="360.6" y1="370" y2="370" stroke="#222" stroke-width="1.35"/>
<text x="355.6" y="374.1" font-size="11.75" fill="#4d4d4d" text-anchor="end" font-weight="normal" font-style="normal" >nuclear outer membrane−endoplasmic reticulum membrane network</text>
<line x1="357.5" x2="360.6" y1="387.2" y2="387.2" stroke="#222" stroke-width="1.35"/>
<text x="355.6" y="391.3" font-size="11.75" fill="#4d4d4d" text-anchor="end" font-weight="normal" font-style="normal" >mitochondrial outer membrane translocase complex</text>
<line x1="357.5" x2="360.6" y1="404.4" y2="404.4" stroke="#222" stroke-width="1.35"/>
<text x="355.6" y="408.5" font-size="11.75" fill="#4d4d4d" text-anchor="end" font-weight="normal" font-style="normal" >intracellular protein−containing complex</text>
<line x1="357.5" x2="360.6" y1="421.6" y2="421.6" stroke="#222" stroke-width="1.35"/>
<text x="355.6" y="425.7" font-size="11.75" fill="#4d4d4d" text-anchor="end" font-weight="normal" font-style="normal" >endoplasmic reticulum protein−containing complex</text>
<line x1="357.5" x2="360.6" y1="438.9" y2="438.9" stroke="#222" stroke-width="1.35"/>
<text x="355.6" y="443.0" font-size="11.75" fill="#4d4d4d" text-anchor="end" font-weight="normal" font-style="normal" >endopeptidase complex</text>
<rect x="360.6" y="455.8" width="252.4" height="35.8" fill="#fff"/>
<line x1="387.8" x2="387.8" y1="455.8" y2="491.6" stroke="#f3f3f3" stroke-width="0.8"/>
<line x1="455.8" x2="455.8" y1="455.8" y2="491.6" stroke="#f3f3f3" stroke-width="0.8"/>
<line x1="523.8" x2="523.8" y1="455.8" y2="491.6" stroke="#f3f3f3" stroke-width="0.8"/>
<line x1="591.8" x2="591.8" y1="455.8" y2="491.6" stroke="#f3f3f3" stroke-width="0.8"/>
<line x1="421.8" x2="421.8" y1="455.8" y2="491.6" stroke="#e8e8e8" stroke-width="1.1"/>
<line x1="489.8" x2="489.8" y1="455.8" y2="491.6" stroke="#e8e8e8" stroke-width="1.1"/>
<line x1="557.8" x2="557.8" y1="455.8" y2="491.6" stroke="#e8e8e8" stroke-width="1.1"/>
<line x1="360.6" x2="613" y1="464.8" y2="464.8" stroke="#e8e8e8" stroke-width="1.1"/>
<line x1="360.6" x2="613" y1="481.9" y2="481.9" stroke="#e8e8e8" stroke-width="1.1"/>
<circle cx="373.5" cy="464.8" r="2.55" fill="#ee3b3f" fill-opacity="0.82" stroke="#ee3b3f" stroke-width="0.8"/>
<circle cx="373.5" cy="481.9" r="2.55" fill="#ee3b3f" fill-opacity="0.82" stroke="#ee3b3f" stroke-width="0.8"/>
<rect x="613" y="455.8" width="16.3" height="35.8" fill="#d9d9d9" stroke="#333" stroke-width="1.1"/>
<rect x="360.6" y="455.8" width="252.4" height="35.8" fill="none" stroke="#333" stroke-width="1.1"/>
<line x1="612.6" x2="612.6" y1="455.8" y2="491.6" stroke="#333" stroke-width="1.6"/>
<text transform="translate(618.0,473.7) rotate(90)" font-size="8.8" fill="#333" text-anchor="middle">Ovary</text>
<line x1="357.5" x2="360.6" y1="464.8" y2="464.8" stroke="#222" stroke-width="1.35"/>
<text x="355.6" y="468.9" font-size="11.75" fill="#4d4d4d" text-anchor="end" font-weight="normal" font-style="normal" >outer mitochondrial membrane protein complex</text>
<line x1="357.5" x2="360.6" y1="481.9" y2="481.9" stroke="#222" stroke-width="1.35"/>
<text x="355.6" y="486.0" font-size="11.75" fill="#4d4d4d" text-anchor="end" font-weight="normal" font-style="normal" >mitochondrial outer membrane translocase complex</text>
<rect x="360.6" y="498.5" width="252.4" height="71.0" fill="#fff"/>
<line x1="387.8" x2="387.8" y1="498.5" y2="569.5" stroke="#f3f3f3" stroke-width="0.8"/>
<line x1="455.8" x2="455.8" y1="498.5" y2="569.5" stroke="#f3f3f3" stroke-width="0.8"/>
<line x1="523.8" x2="523.8" y1="498.5" y2="569.5" stroke="#f3f3f3" stroke-width="0.8"/>
<line x1="591.8" x2="591.8" y1="498.5" y2="569.5" stroke="#f3f3f3" stroke-width="0.8"/>
<line x1="421.8" x2="421.8" y1="498.5" y2="569.5" stroke="#e8e8e8" stroke-width="1.1"/>
<line x1="489.8" x2="489.8" y1="498.5" y2="569.5" stroke="#e8e8e8" stroke-width="1.1"/>
<line x1="557.8" x2="557.8" y1="498.5" y2="569.5" stroke="#e8e8e8" stroke-width="1.1"/>
<line x1="360.6" x2="613" y1="508" y2="508" stroke="#e8e8e8" stroke-width="1.1"/>
<line x1="360.6" x2="613" y1="525.2" y2="525.2" stroke="#e8e8e8" stroke-width="1.1"/>
<line x1="360.6" x2="613" y1="542.3" y2="542.3" stroke="#e8e8e8" stroke-width="1.1"/>
<line x1="360.6" x2="613" y1="559.4" y2="559.4" stroke="#e8e8e8" stroke-width="1.1"/>
<circle cx="424.4" cy="508" r="3.15" fill="#4bb06c" fill-opacity="0.82" stroke="#4bb06c" stroke-width="0.8"/>
<circle cx="392.9" cy="525.2" r="2.25" fill="#4bb06c" fill-opacity="0.82" stroke="#4bb06c" stroke-width="0.8"/>
<circle cx="400.9" cy="542.3" r="2.65" fill="#4bb06c" fill-opacity="0.82" stroke="#4bb06c" stroke-width="0.8"/>
<circle cx="392.9" cy="559.4" r="2.25" fill="#4bb06c" fill-opacity="0.82" stroke="#4bb06c" stroke-width="0.8"/>
<rect x="613" y="498.5" width="16.3" height="71.0" fill="#d9d9d9" stroke="#333" stroke-width="1.1"/>
<rect x="360.6" y="498.5" width="252.4" height="71.0" fill="none" stroke="#333" stroke-width="1.1"/>
<line x1="612.6" x2="612.6" y1="498.5" y2="569.5" stroke="#333" stroke-width="1.6"/>
<text transform="translate(618.0,534.0) rotate(90)" font-size="8.8" fill="#333" text-anchor="middle">MG</text>
<line x1="357.5" x2="360.6" y1="508" y2="508" stroke="#222" stroke-width="1.35"/>
<text x="355.6" y="512.1" font-size="11.75" fill="#4d4d4d" text-anchor="end" font-weight="normal" font-style="normal" >SCF ubiquitin ligase complex</text>
<line x1="357.5" x2="360.6" y1="525.2" y2="525.2" stroke="#222" stroke-width="1.35"/>
<text x="355.6" y="529.3" font-size="11.75" fill="#4d4d4d" text-anchor="end" font-weight="normal" font-style="normal" >outer mitochondrial membrane protein complex</text>
<line x1="357.5" x2="360.6" y1="542.3" y2="542.3" stroke="#222" stroke-width="1.35"/>
<text x="355.6" y="546.4" font-size="11.75" fill="#4d4d4d" text-anchor="end" font-weight="normal" font-style="normal" >outer membrane</text>
<line x1="357.5" x2="360.6" y1="559.4" y2="559.4" stroke="#222" stroke-width="1.35"/>
<text x="355.6" y="563.5" font-size="11.75" fill="#4d4d4d" text-anchor="end" font-weight="normal" font-style="normal" >mitochondrial outer membrane translocase complex</text>
<rect x="360.6" y="576.1" width="252.4" height="36.2" fill="#fff"/>
<line x1="387.8" x2="387.8" y1="576.1" y2="612.3" stroke="#f3f3f3" stroke-width="0.8"/>
<line x1="455.8" x2="455.8" y1="576.1" y2="612.3" stroke="#f3f3f3" stroke-width="0.8"/>
<line x1="523.8" x2="523.8" y1="576.1" y2="612.3" stroke="#f3f3f3" stroke-width="0.8"/>
<line x1="591.8" x2="591.8" y1="576.1" y2="612.3" stroke="#f3f3f3" stroke-width="0.8"/>
<line x1="421.8" x2="421.8" y1="576.1" y2="612.3" stroke="#e8e8e8" stroke-width="1.1"/>
<line x1="489.8" x2="489.8" y1="576.1" y2="612.3" stroke="#e8e8e8" stroke-width="1.1"/>
<line x1="557.8" x2="557.8" y1="576.1" y2="612.3" stroke="#e8e8e8" stroke-width="1.1"/>
<line x1="360.6" x2="613" y1="585.8" y2="585.8" stroke="#e8e8e8" stroke-width="1.1"/>
<line x1="360.6" x2="613" y1="602.8" y2="602.8" stroke="#e8e8e8" stroke-width="1.1"/>
<circle cx="387.9" cy="585.8" r="2.25" fill="#8a41a8" fill-opacity="0.82" stroke="#8a41a8" stroke-width="0.8"/>
<circle cx="387.9" cy="602.8" r="2.25" fill="#8a41a8" fill-opacity="0.82" stroke="#8a41a8" stroke-width="0.8"/>
<rect x="613" y="576.1" width="16.3" height="36.2" fill="#d9d9d9" stroke="#333" stroke-width="1.1"/>
<rect x="360.6" y="576.1" width="252.4" height="36.2" fill="none" stroke="#333" stroke-width="1.1"/>
<line x1="612.6" x2="612.6" y1="576.1" y2="612.3" stroke="#333" stroke-width="1.6"/>
<text transform="translate(618.0,594.2) rotate(90)" font-size="8.8" fill="#333" text-anchor="middle">MT</text>
<line x1="357.5" x2="360.6" y1="585.8" y2="585.8" stroke="#222" stroke-width="1.35"/>
<text x="355.6" y="589.9" font-size="11.75" fill="#4d4d4d" text-anchor="end" font-weight="normal" font-style="normal" >outer mitochondrial membrane protein complex</text>
<line x1="357.5" x2="360.6" y1="602.8" y2="602.8" stroke="#222" stroke-width="1.35"/>
<text x="355.6" y="606.9" font-size="11.75" fill="#4d4d4d" text-anchor="end" font-weight="normal" font-style="normal" >mitochondrial outer membrane translocase complex</text>
<line x1="421.8" x2="421.8" y1="612.3" y2="615.4" stroke="#222" stroke-width="1.35"/>
<text x="421.8" y="626.4" font-size="11.75" fill="#4d4d4d" text-anchor="middle" font-weight="normal" font-style="normal" >0.05</text>
<line x1="489.8" x2="489.8" y1="612.3" y2="615.4" stroke="#222" stroke-width="1.35"/>
<text x="489.8" y="626.4" font-size="11.75" fill="#4d4d4d" text-anchor="middle" font-weight="normal" font-style="normal" >0.10</text>
<line x1="557.8" x2="557.8" y1="612.3" y2="615.4" stroke="#222" stroke-width="1.35"/>
<text x="557.8" y="626.4" font-size="11.75" fill="#4d4d4d" text-anchor="middle" font-weight="normal" font-style="normal" >0.15</text>
<text x="484.3" y="644.8" font-size="13.6" fill="#111" text-anchor="middle" font-weight="normal" font-style="normal" >GeneRatio</text>
<circle cx="646.6" cy="408.2" r="2.6" fill="#6673b6"/>
<text x="660.2" y="411.4" font-size="8.9" fill="#111" text-anchor="start" font-weight="normal" font-style="normal" >Body</text>
<circle cx="646.6" cy="425.2" r="2.6" fill="#ee3b3f"/>
<text x="660.2" y="428.4" font-size="8.9" fill="#111" text-anchor="start" font-weight="normal" font-style="normal" >Ovary</text>
<circle cx="646.6" cy="442.1" r="2.6" fill="#4bb06c"/>
<text x="660.2" y="445.3" font-size="8.9" fill="#111" text-anchor="start" font-weight="normal" font-style="normal" >MG</text>
<circle cx="646.6" cy="459" r="2.6" fill="#8a41a8"/>
<text x="660.2" y="462.2" font-size="8.9" fill="#111" text-anchor="start" font-weight="normal" font-style="normal" >MT</text>
<text x="643.6" y="497.7" font-size="11" fill="#111" text-anchor="start" font-weight="normal" font-style="normal" >Count</text>
<circle cx="651.8" cy="512.7" r="3.8" fill="#000"/>
<text x="665.6" y="515.9" font-size="8.9" fill="#111" text-anchor="start" font-weight="normal" font-style="normal" >10</text>
<circle cx="651.8" cy="529.6" r="4.9" fill="#000"/>
<text x="665.6" y="532.8" font-size="8.9" fill="#111" text-anchor="start" font-weight="normal" font-style="normal" >20</text>
<circle cx="651.8" cy="546.4" r="5.7" fill="#000"/>
<text x="665.6" y="549.6" font-size="8.9" fill="#111" text-anchor="start" font-weight="normal" font-style="normal" >30</text>
<circle cx="651.8" cy="563.3" r="6.4" fill="#000"/>
<text x="665.6" y="566.5" font-size="8.9" fill="#111" text-anchor="start" font-weight="normal" font-style="normal" >40</text>
<circle cx="651.8" cy="580.1" r="7.1" fill="#000"/>
<text x="665.6" y="583.3" font-size="8.9" fill="#111" text-anchor="start" font-weight="normal" font-style="normal" >50</text>
<text x="16.7" y="649.2" font-size="14.5" fill="#000" text-anchor="start" font-weight="bold" font-style="normal" >e</text>
<rect x="476.9" y="656.5" width="204.0" height="12.2" fill="#ea98ba"/>
<rect x="30.5" y="680.4" width="650.4" height="16.9" fill="#bfe9a9"/>
<rect x="30.5" y="765.3" width="650.4" height="16.9" fill="#bfe9a9"/>
<rect x="476.9" y="697.3" width="50.9" height="17.2" fill="#de4560"/>
<rect x="527.5" y="697.3" width="51.4" height="17.2" fill="#d9282b"/>
<rect x="578.6" y="697.3" width="51.3" height="17.2" fill="#d9282b"/>
<rect x="629.6" y="697.3" width="51.6" height="17.2" fill="#d9282b"/>
<text x="503.4" y="709.6" font-size="9.8" fill="#2c1212" text-anchor="middle" font-weight="normal" font-style="normal" >2.37</text>
<text x="554.2" y="709.6" font-size="9.8" fill="#2c1212" text-anchor="middle" font-weight="normal" font-style="normal" >5.81</text>
<text x="605.3" y="709.6" font-size="9.8" fill="#2c1212" text-anchor="middle" font-weight="normal" font-style="normal" >26.25</text>
<text x="656.5" y="709.6" font-size="9.8" fill="#2c1212" text-anchor="middle" font-weight="normal" font-style="normal" >8.39</text>
<text x="67.6" y="709.6" font-size="9.6" fill="#222" text-anchor="middle" font-weight="normal" font-style="normal" >Ls.chr05.1281</text>
<text x="240.2" y="709.6" font-size="9.7" fill="#222" text-anchor="middle" font-weight="normal" font-style="normal" >malate dehydrogenase</text>
<text x="427.4" y="709.6" font-size="9.6" fill="#222" text-anchor="middle" font-weight="normal" font-style="italic" >MDH2</text>
<rect x="476.9" y="714.2" width="50.9" height="17.2" fill="#de4560"/>
<rect x="527.5" y="714.2" width="51.4" height="17.2" fill="#e15876"/>
<rect x="578.6" y="714.2" width="51.3" height="17.2" fill="#d9282b"/>
<rect x="629.6" y="714.2" width="51.6" height="17.2" fill="#d9282b"/>
<text x="503.4" y="726.3" font-size="9.8" fill="#2c1212" text-anchor="middle" font-weight="normal" font-style="normal" >2.32</text>
<text x="554.2" y="726.3" font-size="9.8" fill="#2c1212" text-anchor="middle" font-weight="normal" font-style="normal" >2.27</text>
<text x="605.3" y="726.3" font-size="9.8" fill="#2c1212" text-anchor="middle" font-weight="normal" font-style="normal" >4.64</text>
<text x="656.5" y="726.3" font-size="9.8" fill="#2c1212" text-anchor="middle" font-weight="normal" font-style="normal" >4.00</text>
<text x="67.6" y="726.3" font-size="9.6" fill="#222" text-anchor="middle" font-weight="normal" font-style="normal" >Ls.chr05.1196</text>
<text x="239.1" y="726.3" font-size="9.7" fill="#222" text-anchor="middle" font-weight="normal" font-style="normal" >malate dehydrogenase (quinone)</text>
<text x="427.4" y="726.3" font-size="9.6" fill="#222" text-anchor="middle" font-weight="normal" font-style="italic" >MQO</text>
<rect x="476.9" y="731.1" width="50.9" height="17.4" fill="#db323f"/>
<rect x="527.5" y="731.1" width="51.4" height="17.4" fill="#d9282b"/>
<rect x="578.6" y="731.1" width="51.3" height="17.4" fill="#d9282b"/>
<rect x="629.6" y="731.1" width="51.6" height="17.4" fill="#d9282b"/>
<text x="503.4" y="743.0" font-size="9.8" fill="#2c1212" text-anchor="middle" font-weight="normal" font-style="normal" >2.73</text>
<text x="554.2" y="743.0" font-size="9.8" fill="#2c1212" text-anchor="middle" font-weight="normal" font-style="normal" >6.64</text>
<text x="605.3" y="743.0" font-size="9.8" fill="#2c1212" text-anchor="middle" font-weight="normal" font-style="normal" >4.07</text>
<text x="656.5" y="743.0" font-size="9.8" fill="#2c1212" text-anchor="middle" font-weight="normal" font-style="normal" >6.51</text>
<text x="67.6" y="743.0" font-size="9.6" fill="#222" text-anchor="middle" font-weight="normal" font-style="normal" >Ls.chr07.0306</text>
<text x="237.4" y="743.0" font-size="9.7" fill="#222" text-anchor="middle" font-weight="normal" font-style="normal" >sucA; 2-oxoglutarate dehydrogenase E1 component</text>
<text x="427.4" y="743.0" font-size="9.6" fill="#222" text-anchor="middle" font-weight="normal" font-style="italic" >OGDH</text>
<rect x="476.9" y="748.2" width="50.9" height="17.4" fill="#d9282b"/>
<rect x="527.5" y="748.2" width="51.4" height="17.4" fill="#e4607f"/>
<rect x="578.6" y="748.2" width="51.3" height="17.4" fill="#eb8fa9"/>
<rect x="629.6" y="748.2" width="51.6" height="17.4" fill="#eda0b7"/>
<text x="503.4" y="759.8" font-size="9.8" fill="#2c1212" text-anchor="middle" font-weight="normal" font-style="normal" >3.01</text>
<text x="554.2" y="759.8" font-size="9.8" fill="#2c1212" text-anchor="middle" font-weight="normal" font-style="normal" >2.04</text>
<text x="605.3" y="759.8" font-size="9.8" fill="#2c1212" text-anchor="middle" font-weight="normal" font-style="normal" >1.75</text>
<text x="656.5" y="759.8" font-size="9.8" fill="#2c1212" text-anchor="middle" font-weight="normal" font-style="normal" >1.60</text>
<text x="67.6" y="759.8" font-size="9.6" fill="#222" text-anchor="middle" font-weight="normal" font-style="normal" >Ls.chr07.0307</text>
<text x="237.4" y="759.8" font-size="9.7" fill="#222" text-anchor="middle" font-weight="normal" font-style="normal" >sucA; 2-oxoglutarate dehydrogenase E1 component</text>
<text x="427.4" y="759.8" font-size="9.6" fill="#222" text-anchor="middle" font-weight="normal" font-style="italic" >OGDH</text>
<rect x="476.9" y="782.2" width="50.9" height="17.5" fill="#d9282b"/>
<rect x="527.5" y="782.2" width="51.4" height="17.5" fill="#d9282b"/>
<rect x="578.6" y="782.2" width="51.3" height="17.5" fill="#d9282b"/>
<rect x="629.6" y="782.2" width="51.6" height="17.5" fill="#d9282b"/>
<text x="503.4" y="793.9" font-size="9.8" fill="#2c1212" text-anchor="middle" font-weight="normal" font-style="normal" >4.08</text>
<text x="554.2" y="793.9" font-size="9.8" fill="#2c1212" text-anchor="middle" font-weight="normal" font-style="normal" >25.55</text>
<text x="605.3" y="793.9" font-size="9.8" fill="#2c1212" text-anchor="middle" font-weight="normal" font-style="normal" >31.01</text>
<text x="656.5" y="793.9" font-size="9.8" fill="#2c1212" text-anchor="middle" font-weight="normal" font-style="normal" >7.00</text>
<text x="67.6" y="793.9" font-size="9.6" fill="#222" text-anchor="middle" font-weight="normal" font-style="normal" >Ls.chr08.855</text>
<text x="242" y="793.9" font-size="9.7" fill="#222" text-anchor="middle" font-weight="normal" font-style="normal" >V-type H+-transporting ATPase subunit a</text>
<text x="427.4" y="793.9" font-size="9.6" fill="#222" text-anchor="middle" font-weight="normal" font-style="italic" >ATPeV0A</text>
<rect x="476.9" y="799.4" width="50.9" height="17.3" fill="#d9282b"/>
<rect x="527.5" y="799.4" width="51.4" height="17.3" fill="#e66e8d"/>
<rect x="578.6" y="799.4" width="51.3" height="17.3" fill="#e2506e"/>
<rect x="629.6" y="799.4" width="51.6" height="17.3" fill="#e8849f"/>
<text x="503.4" y="810.8" font-size="9.8" fill="#2c1212" text-anchor="middle" font-weight="normal" font-style="normal" >33.04</text>
<text x="554.2" y="810.8" font-size="9.8" fill="#2c1212" text-anchor="middle" font-weight="normal" font-style="normal" >2.03</text>
<text x="605.3" y="810.8" font-size="9.8" fill="#2c1212" text-anchor="middle" font-weight="normal" font-style="normal" >2.25</text>
<text x="656.5" y="810.8" font-size="9.8" fill="#2c1212" text-anchor="middle" font-weight="normal" font-style="normal" >1.78</text>
<text x="67.6" y="810.8" font-size="9.6" fill="#222" text-anchor="middle" font-weight="normal" font-style="normal" >Ls.chr06.0170</text>
<text x="243.9" y="810.8" font-size="9.7" fill="#222" text-anchor="middle" font-weight="normal" font-style="normal" >solute carrier family 25 (mitochondrial citrate transporter)</text>
<text x="427.4" y="810.8" font-size="9.6" fill="#222" text-anchor="middle" font-weight="normal" font-style="italic" >SLC25A1</text>
<rect x="476.9" y="816.4" width="50.9" height="17.2" fill="#d9282b"/>
<rect x="527.5" y="816.4" width="51.4" height="17.2" fill="#d9282b"/>
<rect x="578.6" y="816.4" width="51.3" height="17.2" fill="#d9282b"/>
<rect x="629.6" y="816.4" width="51.6" height="17.2" fill="#d9282b"/>
<text x="503.4" y="827.8" font-size="9.8" fill="#2c1212" text-anchor="middle" font-weight="normal" font-style="normal" >3.65</text>
<text x="554.2" y="827.8" font-size="9.8" fill="#2c1212" text-anchor="middle" font-weight="normal" font-style="normal" >4.30</text>
<text x="605.3" y="827.8" font-size="9.8" fill="#2c1212" text-anchor="middle" font-weight="normal" font-style="normal" >4.25</text>
<text x="656.5" y="827.8" font-size="9.8" fill="#2c1212" text-anchor="middle" font-weight="normal" font-style="normal" >4.76</text>
<text x="67.6" y="827.8" font-size="9.6" fill="#222" text-anchor="middle" font-weight="normal" font-style="normal" >Ls.chr02.1858</text>
<text x="242.4" y="827.8" font-size="9.7" fill="#222" text-anchor="middle" font-weight="normal" font-style="normal" >mitochondrial splicing suppressor protein 51</text>
<text x="427.4" y="827.8" font-size="9.6" fill="#222" text-anchor="middle" font-weight="normal" font-style="italic" >MSS51</text>
<rect x="476.9" y="833.3" width="50.9" height="17.1" fill="#db323f"/>
<rect x="527.5" y="833.3" width="51.4" height="17.1" fill="#d9282b"/>
<rect x="578.6" y="833.3" width="51.3" height="17.1" fill="#d9282b"/>
<rect x="629.6" y="833.3" width="51.6" height="17.1" fill="#d9282b"/>
<text x="503.4" y="844.7" font-size="9.8" fill="#2c1212" text-anchor="middle" font-weight="normal" font-style="normal" >2.89</text>
<text x="554.2" y="844.7" font-size="9.8" fill="#2c1212" text-anchor="middle" font-weight="normal" font-style="normal" >3.50</text>
<text x="605.3" y="844.7" font-size="9.8" fill="#2c1212" text-anchor="middle" font-weight="normal" font-style="normal" >3.39</text>
<text x="656.5" y="844.7" font-size="9.8" fill="#2c1212" text-anchor="middle" font-weight="normal" font-style="normal" >5.20</text>
<text x="67.6" y="844.7" font-size="9.6" fill="#222" text-anchor="middle" font-weight="normal" font-style="normal" >Ls.chr07.0998</text>
<text x="244.1" y="844.7" font-size="9.7" fill="#222" text-anchor="middle" font-weight="normal" font-style="normal" >mitochondrial import receptor subunit</text>
<text x="427.4" y="844.7" font-size="9.6" fill="#222" text-anchor="middle" font-weight="normal" font-style="italic" >TOM20</text>
<path d="M527.5 697.3V765.3M527.5 782.2V850.1" stroke="#701414" stroke-width="0.7" fill="none" opacity="0.8"/>
<path d="M578.6 697.3V765.3M578.6 782.2V850.1" stroke="#701414" stroke-width="0.7" fill="none" opacity="0.8"/>
<path d="M629.6 697.3V765.3M629.6 782.2V850.1" stroke="#701414" stroke-width="0.7" fill="none" opacity="0.8"/>
<text x="65.4" y="671.8" font-size="12" fill="#222" text-anchor="middle" font-weight="normal" font-style="normal" >Gene ID</text>
<text x="242.4" y="671.8" font-size="12" fill="#222" text-anchor="middle" font-weight="normal" font-style="normal" >Gene Title</text>
<text x="429.2" y="671.8" font-size="12" fill="#222" text-anchor="middle" font-weight="normal" font-style="normal" >Gene Symbol</text>
<text x="584" y="667" font-size="12.4" fill="#222" text-anchor="middle" font-weight="normal" font-style="normal" >FPKM fold change (WI/WU)</text>
<text x="507.5" y="679.9" font-size="12.4" fill="#222" text-anchor="middle" font-weight="normal" font-style="normal" >5N</text>
<text x="551.7" y="679.9" font-size="12.4" fill="#222" text-anchor="middle" font-weight="normal" font-style="normal" >1dF</text>
<text x="605.1" y="679.9" font-size="12.4" fill="#222" text-anchor="middle" font-weight="normal" font-style="normal" >3dF</text>
<text x="655.9" y="679.9" font-size="12.4" fill="#222" text-anchor="middle" font-weight="normal" font-style="normal" >5dF</text>
<text x="357.3" y="693.8" font-size="12.45" fill="#222" text-anchor="middle" font-weight="normal" font-style="normal" >TCA cycle</text>
<text x="363.8" y="778.8" font-size="12.45" fill="#222" text-anchor="middle" font-weight="normal" font-style="normal" >Oxidative phosphorylation</text>
<rect x="476.9" y="680.4" width="204.0" height="3" fill="#bfe9a9"/>
<path d="M10.4 656.5H680.9M10.4 850.1H680.9M10.4 656.5V850.1M680.9 656.5V850.1" stroke="#3a3a3a" stroke-width="1" fill="none"/>
<path d="M30.5 656.5V850.1" stroke="#3a3a3a" stroke-width="1" fill="none"/>
<path d="M105.2 656.5V680.4M105.2 697.3V765.3M105.2 782.2V850.1" stroke="#3a3a3a" stroke-width="1" fill="none"/>
<path d="M379.6 656.5V680.4M379.6 697.3V765.3M379.6 782.2V850.1" stroke="#3a3a3a" stroke-width="1" fill="none"/>
<path d="M476.9 656.5V680.4M476.9 697.3V765.3M476.9 782.2V850.1" stroke="#3a3a3a" stroke-width="1" fill="none"/>
<path d="M527.5 668.7V680.4" stroke="#3a3a3a" stroke-width="1" fill="none"/>
<path d="M578.6 668.7V680.4" stroke="#3a3a3a" stroke-width="1" fill="none"/>
<path d="M629.6 668.7V680.4" stroke="#3a3a3a" stroke-width="1" fill="none"/>
<path d="M476.9 668.7H680.9" stroke="#3a3a3a" stroke-width="1" fill="none"/>
<path d="M30.5 680.4H680.9" stroke="#3a3a3a" stroke-width="1" fill="none"/>
<path d="M30.5 697.3H680.9" stroke="#3a3a3a" stroke-width="1" fill="none"/>
<path d="M30.5 765.3H680.9" stroke="#3a3a3a" stroke-width="1" fill="none"/>
<path d="M30.5 782.2H680.9" stroke="#3a3a3a" stroke-width="1" fill="none"/>
<text transform="translate(25.5,802.3) rotate(-90)" font-size="12.5" fill="#222">Energy production</text>
</svg>
</body></html>
